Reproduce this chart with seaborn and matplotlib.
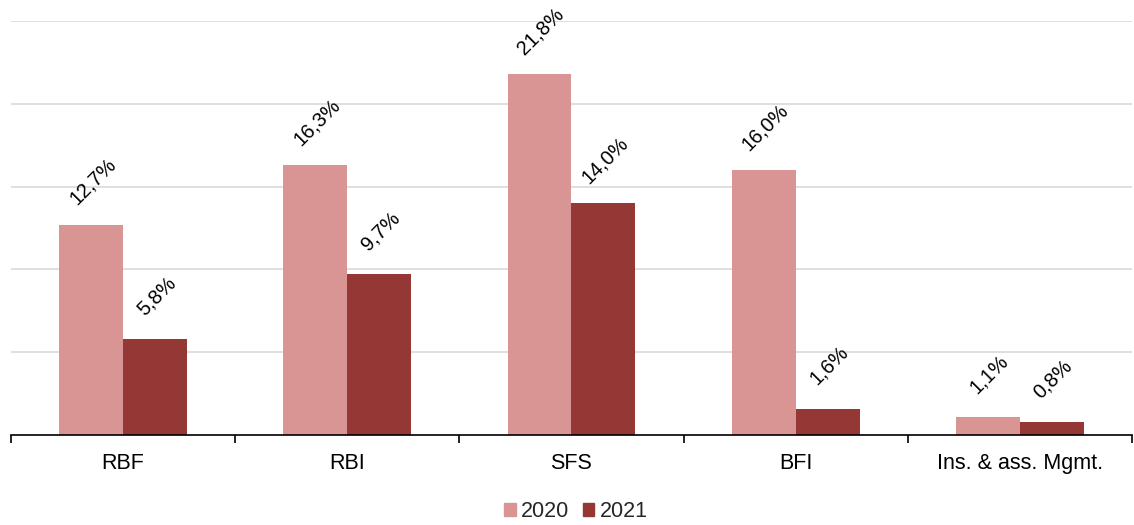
import matplotlib
matplotlib.use("Agg")
import matplotlib.pyplot as plt
import seaborn as sns
import pandas as pd
from matplotlib.ticker import FixedLocator

categories = ["RBF", "RBI", "SFS", "BFI", "Ins. & ass. Mgmt."]
years = ["2020", "2021"]
values_2020 = [12.7, 16.3, 21.8, 16.0, 1.1]
values_2021 = [5.8, 9.7, 14.0, 1.6, 0.8]
colors = ["#D99594", "#953735"]

df = pd.DataFrame({
    "category": categories * 2,
    "year": [years[0]] * len(categories) + [years[1]] * len(categories),
    "value": values_2020 + values_2021,
})

sns.set_theme(style="white")
plt.rcParams["font.family"] = ["Liberation Sans", "DejaVu Sans"]

fig = plt.figure(figsize=(11.34, 5.25), dpi=100)
ax = fig.add_axes([0.0097, 0.1714, 0.9885, 0.7886])

sns.barplot(data=df, x="category", y="value", hue="year", order=categories,
            hue_order=years, palette=colors, width=0.57, saturation=1,
            gap=0, linewidth=0, ax=ax, legend=True)

ax.set_ylim(0, 25)
ax.set_xlim(-0.5, len(categories) - 0.5)
ax.set_yticks([5, 10, 15, 20, 25])
ax.set_yticklabels([])
ax.tick_params(axis="y", length=0)
ax.yaxis.grid(True, color="#D9D9D9", linewidth=1.2)
ax.set_axisbelow(True)
for s in ["left", "right", "top"]:
    ax.spines[s].set_visible(False)
ax.spines["bottom"].set_color("black")
ax.spines["bottom"].set_linewidth(1.2)

ax.set_xlabel("")
ax.set_ylabel("")
ax.tick_params(axis="x", which="major", length=0, labelsize=15.5, pad=13, colors="black")
ax.xaxis.set_minor_locator(FixedLocator([i - 0.5 for i in range(len(categories) + 1)]))
ax.tick_params(axis="x", which="minor", length=6, width=1.2, color="black", direction="out", bottom=True)

series = [values_2020, values_2021]
for container, vals in zip(ax.containers, series):
    for patch, v in zip(container.patches, vals):
        cx = patch.get_x() + patch.get_width() / 2
        ax.annotate(f"{v:.1f}%".replace(".", ","), xy=(cx, v), xytext=(1, 31),
                    textcoords="offset points", ha="center", va="center",
                    rotation=45, fontsize=14.5, color="black", annotation_clip=False)

ax.get_legend().remove()
handles = [plt.Rectangle((0, 0), 1, 1, color=c) for c in colors]
fig.legend(handles, years, loc="lower center", bbox_to_anchor=(0.508, -0.031), ncol=2,
           frameon=False, fontsize=15.5, handlelength=0.52, handleheight=0.52,
           handletextpad=0.25, columnspacing=0.65)

fig.savefig("out.png", dpi=100)
